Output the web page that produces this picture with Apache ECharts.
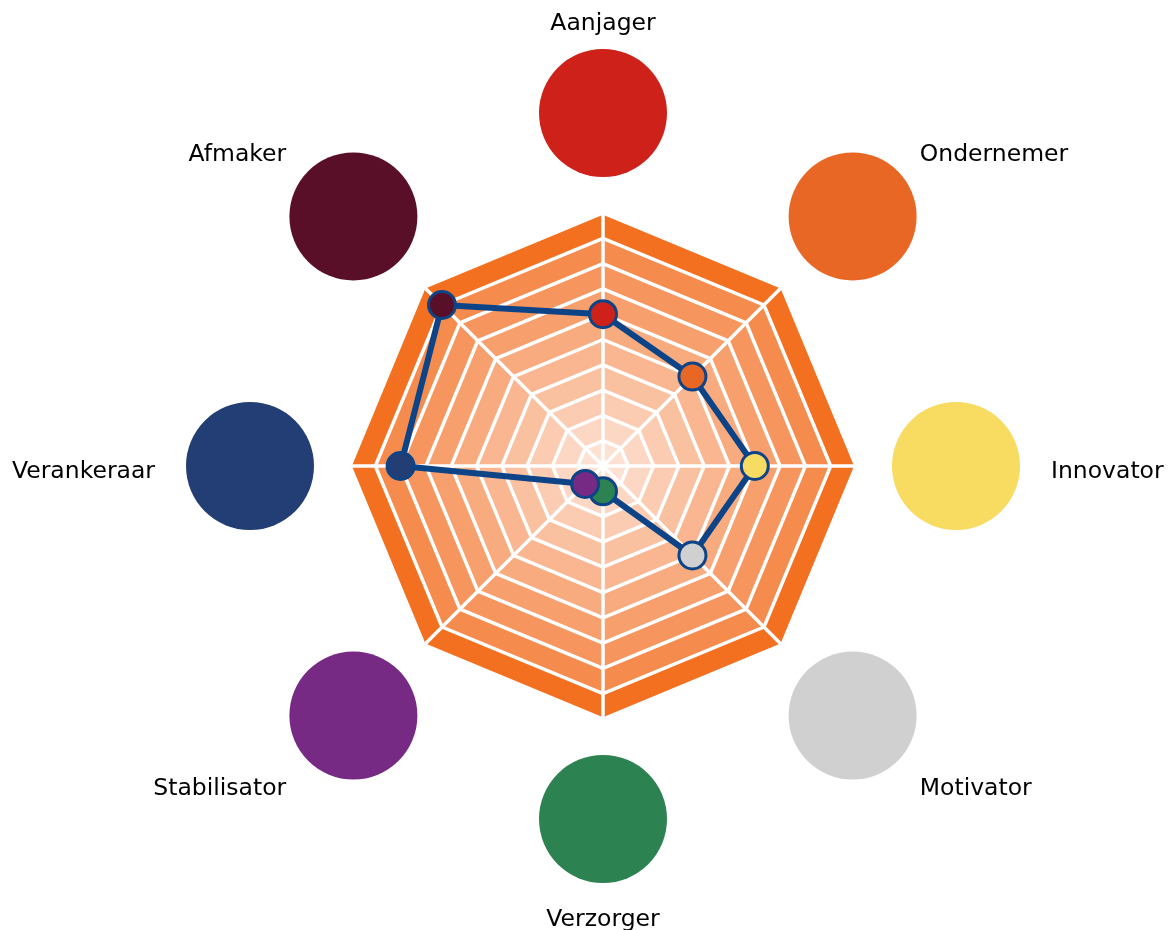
<!DOCTYPE html>
<html>
<head>
<meta charset="utf-8">
<script src="https://cdn.jsdelivr.net/npm/echarts@6/dist/echarts.min.js"></script>
<style>
html,body{margin:0;padding:0;background:#fff;}
#chart{width:1176px;height:930px;}
</style>
</head>
<body>
<div id="chart"></div>
<script>
// Categories, clockwise from the top
const categories = ['Aanjager', 'Ondernemer', 'Innovator', 'Motivator', 'Verzorger', 'Stabilisator', 'Verankeraar', 'Afmaker'];
const scores = [6, 5, 6, 5, 1, 1, 8, 9];
const maxScore = 10;
const categoryColors = ['#cd2119', '#e96724', '#f8dc62', '#d0d0d0', '#2c8250', '#762a84', '#233e74', '#590f28'];
const ringColors = ['#fde2d4', '#fcd7c3', '#fbccb2', '#fac1a1', '#f9b690', '#f8ab7f', '#f7a06e', '#f6955d', '#f58b4d', '#f37021'];

const CX = 603, CY = 466, R = 253;
const CIRCLE_R = 353, LABEL_R = 448;
const LINE = '#0d4488';

const n = categories.length;
const angleOf = i => i * 360 / n;

// ECharts radar places indicators counterclockwise; reorder so the picture runs clockwise
const order = [0].concat(categories.map((_, i) => i).slice(1).reverse());
const indicator = order.map(i => ({ name: categories[i], max: maxScore }));
const radarValues = order.map(i => scores[i]);

const chart = echarts.init(document.getElementById('chart'));
chart.setOption({
  animation: false,
  backgroundColor: '#ffffff',
  radar: {
    center: [CX, CY],
    radius: R,
    startAngle: 90,
    shape: 'polygon',
    splitNumber: 10,
    indicator: indicator,
    axisName: { show: false },
    axisLine: { lineStyle: { color: '#ffffff', width: 3.5 } },
    splitLine: { lineStyle: { color: '#ffffff', width: 3.5 } },
    splitArea: { show: true, areaStyle: { color: ringColors } }
  },
  polar: [
    { center: [CX, CY], radius: R },
    { center: [CX, CY], radius: LABEL_R }
  ],
  angleAxis: [
    { polarIndex: 0, type: 'value', min: 0, max: 360, startAngle: 90, clockwise: true, show: false },
    { polarIndex: 1, type: 'value', min: 0, max: 360, startAngle: 90, clockwise: true, show: false }
  ],
  radiusAxis: [
    { polarIndex: 0, type: 'value', min: 0, max: maxScore, show: false },
    { polarIndex: 1, type: 'value', min: 0, max: LABEL_R, show: false }
  ],
  series: [
    {
      type: 'radar',
      symbol: 'none',
      z: 3,
      lineStyle: { color: LINE, width: 6 },
      data: [{ value: radarValues }]
    },
    {
      type: 'scatter',
      coordinateSystem: 'polar',
      polarIndex: 0,
      z: 5,
      symbol: 'circle',
      symbolSize: 27,
      itemStyle: { borderColor: LINE, borderWidth: 3, opacity: 1 },
      data: scores.map((v, i) => ({ value: [v, angleOf(i)], itemStyle: { color: categoryColors[i] } }))
    },
    {
      type: 'scatter',
      coordinateSystem: 'polar',
      polarIndex: 1,
      z: 2,
      symbol: 'circle',
      symbolSize: 128,
      itemStyle: { opacity: 1 },
      data: categories.map((c, i) => ({ value: [CIRCLE_R, angleOf(i)], itemStyle: { color: categoryColors[i] } }))
    },
    {
      type: 'scatter',
      coordinateSystem: 'polar',
      polarIndex: 1,
      z: 2,
      symbol: 'circle',
      symbolSize: 1,
      itemStyle: { color: 'rgba(0,0,0,0)' },
      data: categories.map((c, i) => {
        const s = Math.sin(angleOf(i) * Math.PI / 180);
        const align = s > 0.1 ? 'left' : (s < -0.1 ? 'right' : 'center');
        return {
          value: [LABEL_R, angleOf(i)],
          name: c,
          label: {
            show: true,
            position: 'inside',
            formatter: c,
            align: align,
            verticalAlign: 'middle',
            offset: [0, 6],
            fontFamily: 'DejaVu Sans',
            fontSize: 23.5,
            color: '#000000',
            textBorderWidth: 0,
            opacity: 1
          }
        };
      })
    }
  ]
});
</script>
</body>
</html>
